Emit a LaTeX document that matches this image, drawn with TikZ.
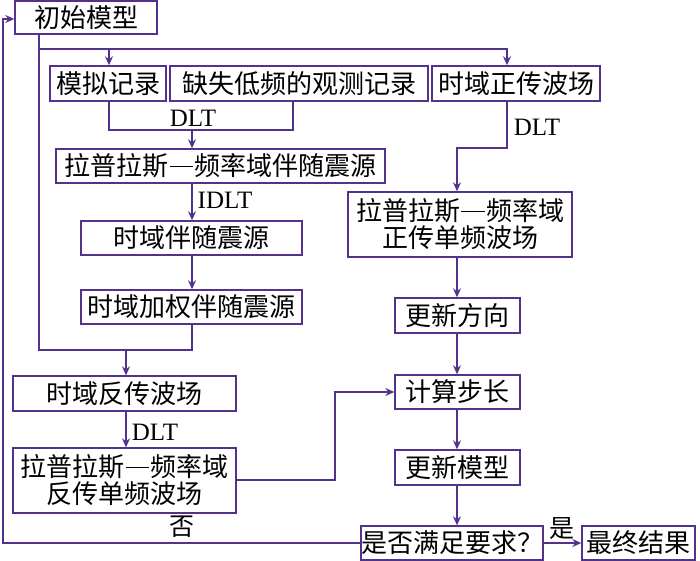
\documentclass[tikz,border=0pt]{standalone}
\usepackage{fontspec}
\setmainfont{Liberation Serif}
\newfontfamily\cjk{Noto Sans CJK SC}
\usetikzlibrary{arrows.meta}
\definecolor{lc}{RGB}{82,50,140}
\newcommand{\cdash}{\makebox[1em]{\rule[0.33em]{0.9em}{0.05em}}}
\begin{document}
\begin{tikzpicture}[x=1pt,y=-1pt,
  bx/.style={draw=lc,line width=1.4pt,inner sep=0pt,align=center,
    font=\cjk\fontsize{26}{27}\selectfont},
  ln/.style={draw=lc,line width=1.4pt},
  ar/.style={ln,-{Stealth[length=9pt,width=8pt]}},
  lab/.style={font=\fontsize{25}{27}\selectfont,inner sep=0pt},
  clab/.style={font=\cjk\fontsize{25}{27}\selectfont,inner sep=0pt}]
\useasboundingbox (0,0) rectangle (700,561);
\node[bx,minimum width=142pt,minimum height=33pt] (init) at (86,17.5) {初始模型};
\node[bx,minimum width=116pt,minimum height=35pt] (sim) at (108,83.5) {模拟记录};
\node[bx,minimum width=258pt,minimum height=35pt] (obs) at (299,83.5) {缺失低频的观测记录};
\node[bx,minimum width=168pt,minimum height=35pt] (fwd) at (516,83.5) {时域正传波场};
\node[bx,minimum width=329pt,minimum height=34pt] (adjL) at (220.5,166) {拉普拉斯\cdash 频率域伴随震源};
\node[bx,minimum width=221pt,minimum height=34pt] (adjT) at (191.5,238) {时域伴随震源};
\node[bx,minimum width=221pt,minimum height=34pt] (wadj) at (191.5,307) {时域加权伴随震源};
\node[bx,minimum width=223pt,minimum height=35pt] (back) at (124.5,393.5) {时域反传波场};
\node[bx,minimum width=223pt,minimum height=65pt] (backL) at (124.5,480.5) {拉普拉斯\cdash 频率域\\反传单频波场};
\node[bx,minimum width=224pt,minimum height=65pt] (fwdL) at (460,224.5) {拉普拉斯\cdash 频率域\\正传单频波场};
\node[bx,minimum width=125pt,minimum height=35pt] (dir) at (457.5,315.5) {更新方向};
\node[bx,minimum width=125pt,minimum height=34pt] (stp) at (457.5,392) {计算步长};
\node[bx,minimum width=125pt,minimum height=35pt] (upd) at (457.5,467.5) {更新模型};
\node[bx,minimum width=182pt,minimum height=34pt] (chk) at (452,543) {是否满足要求？};
\node[bx,minimum width=113pt,minimum height=34pt] (fin) at (638.5,543) {最终结果};
% coordinates
\coordinate (a1) at (39,49);
\coordinate (a2) at (507,49);
\coordinate (a3) at (109,49);
\coordinate (j1) at (109,130);
\coordinate (j2) at (293,130);
\coordinate (j3) at (192,130);
\coordinate (k1) at (39,350);
\coordinate (k2) at (192,350);
\coordinate (k3) at (126,350);
\coordinate (f1) at (507,148);
\coordinate (f2) at (457,148);
\coordinate (b1) at (335,480);
\coordinate (b2) at (335,392);
\coordinate (c1) at (3,543);
\coordinate (c2) at (3,19);
% connectors
\draw[ln] (init.south -| a1) -- (k1) -- (k2) -- (wadj.south -| k2);
\draw[ar] (a1) -- (a2) -- (fwd.north -| a2);
\draw[ar] (a3) -- (sim.north -| a3);
\draw[ln] (sim.south -| j1) -- (j1) -- (j2) -- (obs.south -| j2);
\draw[ar] (j3) -- (adjL.north -| j3);
\node[lab] (dlt1) at (193,118) {DLT};
\draw[ar] (adjL.south -| j3) -- (adjT.north -| j3);
\node[lab] (idlt) at (225,200) {IDLT};
\draw[ar] (adjT.south -| j3) -- (wadj.north -| j3);
\draw[ar] (k3) -- (back.north -| k3);
\draw[ar] (back.south -| k3) -- (backL.north -| k3);
\node[lab] (dlt3) at (155,432) {DLT};
\draw[ar] (fwd.south -| a2) -- (f1) -- (f2) -- (fwdL.north -| f2);
\node[lab] (dlt2) at (537,127) {DLT};
\draw[ar] (fwdL.south -| f2) -- (dir.north -| f2);
\draw[ar] (dir.south -| f2) -- (stp.north -| f2);
\draw[ar] (stp.south -| f2) -- (upd.north -| f2);
\draw[ar] (upd.south -| f2) -- (chk.north -| f2);
\draw[ar] (backL.east |- b1) -- (b1) -- (b2) -- (stp.west |- b2);
\draw[ar] (chk.west) -- (c1) -- (c2) -- (init.west |- c2);
\node[clab] (no) at (182,527) {否};
\draw[ar] (chk.east) -- (fin.west);
\node[clab] (yes) at (562,529) {是};
\end{tikzpicture}
\end{document}
